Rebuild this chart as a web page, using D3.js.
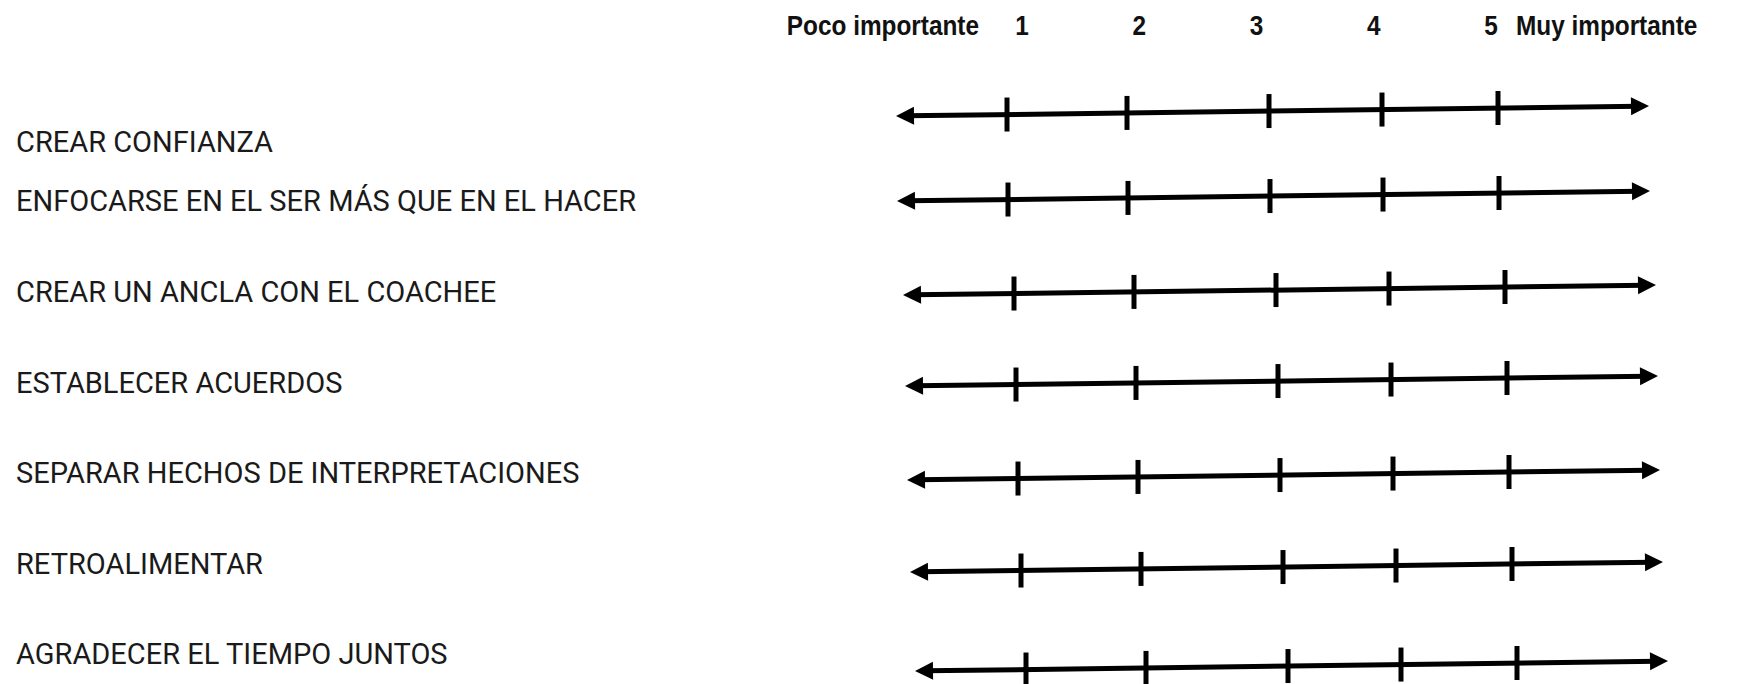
<!DOCTYPE html>
<html><head><meta charset="utf-8">
<script src="https://cdn.jsdelivr.net/npm/d3@7"></script>
<style>body{margin:0;background:#fff}svg{display:block}</style>
</head><body>
<script>
const items = ["CREAR CONFIANZA","ENFOCARSE EN EL SER MÁS QUE EN EL HACER","CREAR UN ANCLA CON EL COACHEE","ESTABLECER ACUERDOS","SEPARAR HECHOS DE INTERPRETACIONES","RETROALIMENTAR","AGRADECER EL TIEMPO JUNTOS"];
const scaleValues = [1,2,3,4,5];
const headerLeft = "Poco importante";
const headerRight = "Muy importante";

const W=1745,H=684;
const svg=d3.select("body").append("svg").attr("width",W).attr("height",H);

// row layout (as drawn in the original form)
const rowShift = [0,1,7,9,11,14,19];
const lineY = [116,201,295,386,480,572,671];
const labelY = [152,211,302,393,483,574,664];

// position along a line (hand-drawn spacing of the original)
const pos = d3.scaleLinear().domain([0,1,2,3,4,5,6.3]).range([0,111,231,373,486,602,753]);
const rise = 10;
const x0base = 896;

const g = svg.append("g");
items.forEach((name,i)=>{
  const x0 = x0base + rowShift[i];
  const xs = v => x0 + pos(v);
  const xa = xs(0), xb = xs(6.3);
  const ys = d3.scaleLinear().domain([xa, xb]).range([lineY[i], lineY[i]-rise]);
  const row = g.append("g");
  row.append("line").attr("x1",xa+10).attr("y1",ys(xa+10)).attr("x2",xb-10).attr("y2",ys(xb-10))
    .attr("stroke","#000").attr("stroke-width",5);
  const ang = Math.atan2(-rise, xb-xa);
  const head = (x,y,dir)=>{
    const L=18,Wd=9;
    const c=Math.cos(ang),s=Math.sin(ang);
    const bx=x-dir*L*c, by=y-dir*L*s;
    return `M${x},${y}L${bx - s*Wd},${by + c*Wd}L${bx + s*Wd},${by - c*Wd}Z`;
  };
  row.append("path").attr("d",head(xb,ys(xb),1)).attr("fill","#000");
  row.append("path").attr("d",head(xa,ys(xa),-1)).attr("fill","#000");
  row.selectAll("line.tick").data(scaleValues).join("line").attr("class","tick")
    .attr("x1",d=>xs(d)).attr("x2",d=>xs(d))
    .attr("y1",d=>ys(xs(d))-17).attr("y2",d=>ys(xs(d))+17)
    .attr("stroke","#000").attr("stroke-width",5);
  svg.append("text").attr("x",16).attr("y",labelY[i]).text(name)
    .attr("font-family","Roboto, Arial, sans-serif").attr("font-size",29).attr("fill","#1a1a1a");
});

// header (narrow bold)
const hx = d3.scalePoint().domain(scaleValues).range([1022,1491]);
const sx = 0.87, hy = 34.5;
const hdr = svg.append("g").attr("font-family","'Liberation Sans',Arial,sans-serif")
  .attr("font-weight","bold").attr("font-size",28).attr("fill","#111");
const put = (x,txt,anchor)=>hdr.append("text").attr("transform",`translate(${x},${hy}) scale(${sx},1)`)
  .attr("text-anchor",anchor).text(txt);
put(979, headerLeft, "end");
scaleValues.forEach(v=>put(hx(v), String(v), "middle"));
put(1516, headerRight, "start");
</script>
</body></html>
